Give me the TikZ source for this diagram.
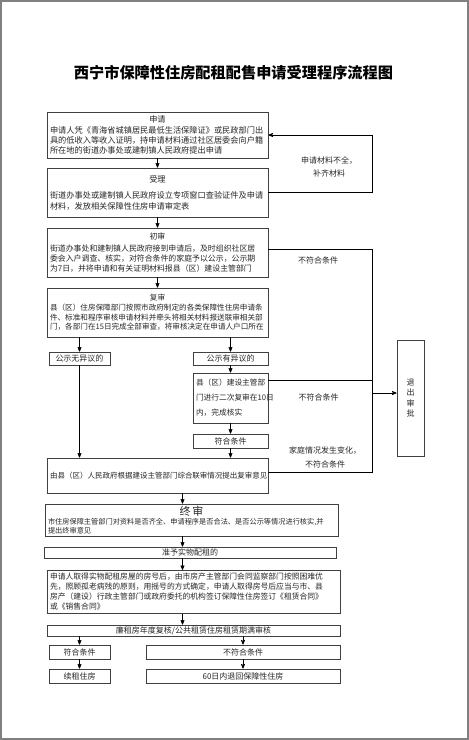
\documentclass[tikz,border=0pt]{standalone}
\usepackage{fontspec}
\setmainfont{Noto Sans CJK SC}
\usepackage{tikz}
\usetikzlibrary{arrows}
\usepackage{color}
\definecolor{rahmen}{rgb}{0.5,0.5,0.5}
\definecolor{kante}{rgb}{0.25,0.25,0.25}
\definecolor{schrift}{rgb}{0.15,0.15,0.15}
\tikzstyle{kasten} = [draw=kante,line width=0.9pt,rectangle,text=schrift,inner sep=3pt,align=left,font=\fontsize{8}{10}\selectfont]
\tikzstyle{kasten'} = [kasten,align=center,inner sep=1pt]
\tikzstyle{hinweis} = [text=schrift,inner sep=1pt,align=center,font=\fontsize{8}{13}\selectfont]
\tikzstyle{linie} = [draw=black,line width=0.7pt]
\tikzstyle{flow} = [->,linie,>=stealth']

\begin{document}
\begin{tikzpicture}[x=1pt,y=-1pt]
\useasboundingbox (0,0) rectangle (469,740);
\draw[rahmen,line width=1.5pt] (1,1) rectangle (468,739);

\node[text=black,font=\fontsize{15.2}{18}\selectfont\bfseries] (titel) at (233.5,73) {
	西宁市保障性住房配租配售申请受理程序流程图
};

% Antrag und Pruefung
\node[kasten,text width=215,minimum width=221,minimum height=46,font=\fontsize{8.2}{10}\selectfont] (shenqing) at (157.5,135) {
	\centerline{申请}\vspace{1pt}
	申请人凭《青海省城镇居民最低生活保障证》或民政部门出\\
	具的低收入等收入证明，持申请材料通过社区居委会向户籍\\
	所在地的街道办事处或建制镇人民政府提出申请
};
\node[kasten,text width=215,minimum width=221,minimum height=49,font=\fontsize{8.2}{11}\selectfont] (shouli) at (157.5,192.5) {
	\centerline{受理}\vspace{5pt}
	街道办事处或建制镇人民政府设立专项窗口查验证件及申请\\
	材料，发放相关保障性住房申请审定表
};
\node[kasten,text width=215,minimum width=221,minimum height=49,font=\fontsize{7.9}{10}\selectfont] (chushen) at (157.5,252.5) {
	\centerline{初审}\vspace{2pt}
	街道办事处和建制镇人民政府接到申请后，及时组织社区居\\
	委会入户调查、核实，对符合条件的家庭予以公示，公示期\\
	为7日，并将申请和有关证明材料报县（区）建设主管部门
};
\node[kasten,text width=215,minimum width=221,minimum height=49,font=\fontsize{7.6}{9.6}\selectfont] (fushen) at (157.5,312.5) {
	\centerline{复审}
	县（区）住房保障部门按照市政府制定的各类保障性住房申请条\\
	件、标准和程序审核申请材料并牵头将相关材料报送联审相关部\\
	门，各部门在15日完成全部审查，将审核决定在申请人户口所在
};

% Publikation
\node[kasten',minimum width=61,minimum height=13] (gswu) at (79.5,358.5) {公示无异议的};
\node[kasten',minimum width=75,minimum height=13] (gsyou) at (230.5,358.5) {公示有异议的};
\node[kasten,text width=69,minimum width=75,minimum height=50,font=\fontsize{7.7}{15}\selectfont] (erci) at (230.5,398) {
	县（区）建设主管部\\
	门进行二次复审在10日\\
	内，完成核实
};
\node[kasten',minimum width=75,minimum height=14] (fuhe1) at (230.5,441) {符合条件};
\node[kasten,text width=215,minimum width=221,minimum height=35,font=\fontsize{7.5}{10}\selectfont] (fushenyj) at (157.5,475.5) {
	由县（区）人民政府根据建设主管部门综合联审情况提出复审意见
};

% Endpruefung und Vergabe
\node[kasten,text width=287,minimum width=293,minimum height=30,inner sep=2pt,font=\fontsize{7.2}{9}\selectfont] (zhongshen) at (191.5,520) {
	\centerline{\fontsize{11}{11}\selectfont 终\,审}
	市住房保障主管部门对资料是否齐全、申请程序是否合法、是否公示等情况进行核实,并\\
	提出终审意见
};
\node[kasten',minimum width=292,minimum height=11] (zhunyu) at (190,552.5) {准予实物配租的};
\node[kasten,text width=287,minimum width=293,minimum height=42,font=\fontsize{7.8}{10}\selectfont] (peizu) at (193.5,592) {
	申请人取得实物配租房屋的房号后，由市房产主管部门会同监察部门按照困难优\\
	先，照顾孤老病残的原则，用摇号的方式确定，申请人取得房号后应当与市、县\\
	房产（建设）行政主管部门或政府委托的机构签订保障性住房签订《租赁合同》\\
	或《销售合同》
};
\node[kasten',minimum width=293,minimum height=11] (fuhe) at (193.5,630.5) {廉租房年度复核/公共租赁住房租赁期满审核};
\node[kasten',minimum width=61,minimum height=14] (fuhe2) at (79.5,652) {符合条件};
\node[kasten',minimum width=194,minimum height=14] (bufuhe) at (243,652) {不符合条件};
\node[kasten',minimum width=61,minimum height=14] (xuzu) at (79.5,676) {续租住房};
\node[kasten',minimum width=194,minimum height=14] (tuihui) at (243,676) {60日内退回保障性住房};

% Ausstieg
\node[kasten',minimum width=27,minimum height=116,font=\fontsize{8}{10.5}\selectfont] (tuichu) at (410.5,398) {退\\出\\审\\批};

\coordinate (schiene) at (372,0);
\coordinate (achse) at (182.5,0);

% Hinweise
\node[hinweis] (h1) at (329,166.5) {申请材料不全，\\补齐材料};
\node[hinweis] (h2) at (318,260) {不符合条件};
\node[hinweis] (h3) at (318.5,397) {不符合条件};
\node[hinweis,font=\fontsize{8}{14}\selectfont] (h4) at (325,457) {家庭情况发生变化，\\不符合条件};

% Pfeile
\draw[flow] (shenqing) -- (shouli);
\draw[flow] (shouli) -- (chushen);
\draw[flow] (chushen) -- (fushen);
\draw[flow] (fushen.south -| gswu) -- (gswu);
\draw[flow] (fushen.south -| gsyou) -- (gsyou);
\draw[flow] (gsyou) -- (erci);
\draw[flow] (erci) -- (fuhe1);
\draw[flow] (fuhe1) -- (fuhe1 |- fushenyj.north);
\draw[flow] (gswu) -- (gswu |- fushenyj.north);
\draw[flow] (fushenyj.south -| achse) -- (zhongshen.north -| achse);
\draw[flow] (zhongshen.south -| achse) -- (zhunyu.north -| achse);
\draw[flow] (zhunyu.south -| achse) -- (peizu.north -| achse);
\draw[flow] (peizu.south -| achse) -- (fuhe.north -| achse);
\draw[flow] (fuhe.south -| fuhe2) -- (fuhe2);
\draw[flow] (fuhe.south -| bufuhe) -- (bufuhe);
\draw[flow] (fuhe2) -- (xuzu);
\draw[flow] (bufuhe) -- (tuihui);

\draw[flow] (shouli.east) -- (shouli.east -| schiene) -- (shenqing.east -| schiene) -- (shenqing.east);
\draw[linie] ([yshift=3pt]chushen.east) -- ([yshift=3pt]chushen.east -| schiene) -- ([yshift=3pt]fushenyj.east -| schiene) -- ([yshift=3pt]fushenyj.east);
\draw[linie] ([yshift=18pt]erci.east) -- ([yshift=18pt]erci.east -| schiene);
\draw[flow] ([yshift=5pt]tuichu.west -| schiene) -- ([yshift=5pt]tuichu.west);
\end{tikzpicture}
\end{document}
